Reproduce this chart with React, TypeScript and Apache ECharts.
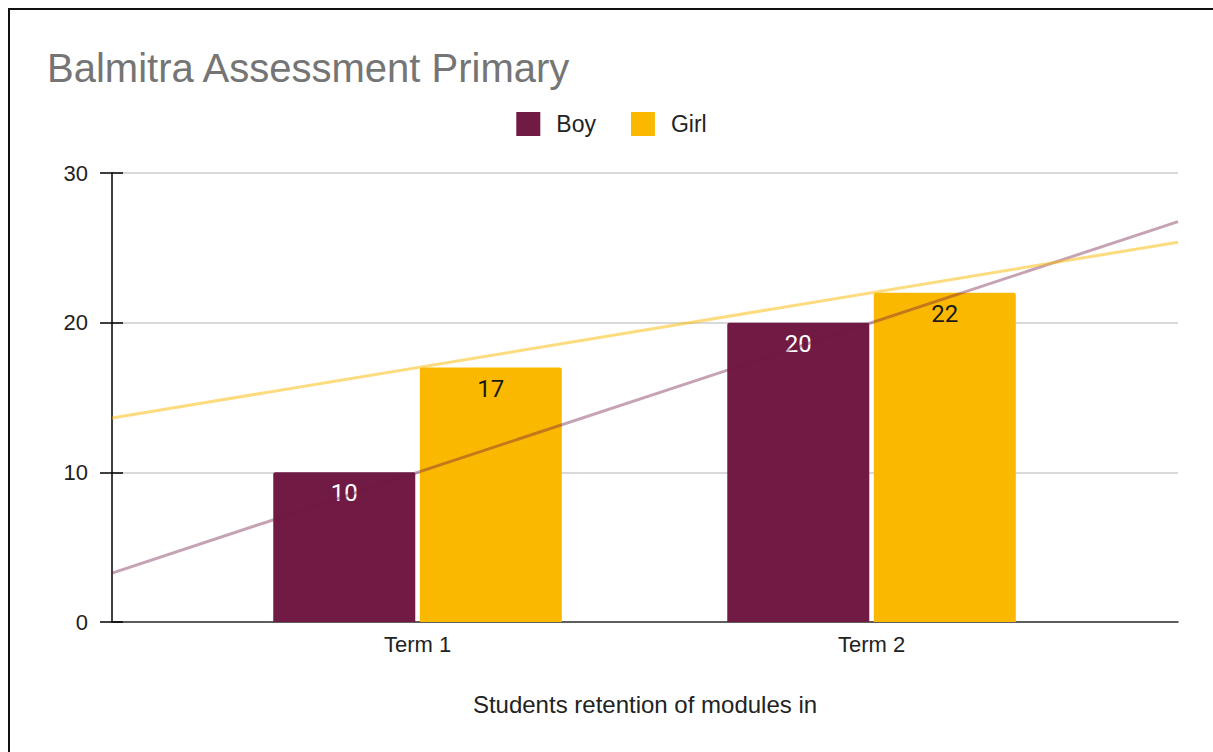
import React, { useEffect, useRef } from "react";
import * as echarts from "echarts";

const categories = ["Term 1", "Term 2"];
const categoryPositions = [1, 2];
const boyValues = [10, 20];
const girlValues = [17, 22];
const yTicks = [0, 10, 20, 30];
const xDomain = [0.327, 2.675];

function trend(xs: number[], ys: number[]) {
  const n = xs.length;
  const mx = xs.reduce((a, b) => a + b, 0) / n;
  const my = ys.reduce((a, b) => a + b, 0) / n;
  let num = 0;
  let den = 0;
  for (let i = 0; i < n; i++) {
    num += (xs[i] - mx) * (ys[i] - my);
    den += (xs[i] - mx) * (xs[i] - mx);
  }
  const slope = den ? num / den : 0;
  const icpt = my - slope * mx;
  return xDomain.map((x) => [x, icpt + slope * x]);
}

const BOY = "#701a44";
const GIRL = "#fab900";
const ARIAL = "'Liberation Sans', Arial, sans-serif";

export default function App() {
  const ref = useRef<HTMLDivElement>(null);
  useEffect(() => {
    document.documentElement.style.overflow = "hidden";
    document.body.style.overflow = "hidden";
    const chart = echarts.init(ref.current!, undefined, { renderer: "svg" });
    const yMin = yTicks[0];
    const yMax = yTicks[yTicks.length - 1];
    const yInt = yTicks[1] - yTicks[0];
    const gridBox = { left: 102, right: 35, top: 163, bottom: 130 };
    chart.setOption({
      animation: false,
      backgroundColor: "#fff",
      title: {
        text: "Balmitra Assessment Primary",
        left: 32,
        top: 33,
        textStyle: { fontFamily: ARIAL, fontSize: 40, fontWeight: "normal", color: "#757575" },
      },
      legend: {
        data: ["Boy", "Girl"],
        left: "center",
        top: 97,
        itemWidth: 24,
        itemHeight: 24,
        itemGap: 35,
        icon: "rect",
        textStyle: { fontFamily: ARIAL, fontSize: 23, color: "#222", padding: [0, 0, 0, 11] },
      },
      grid: [{ ...gridBox }, { ...gridBox }],
      xAxis: [
        {
          type: "value",
          min: xDomain[0],
          max: xDomain[1],
          splitLine: { show: false },
          axisTick: { show: false },
          axisLine: { show: true, lineStyle: { color: "#333", width: 1.5 } },
          axisLabel: {
            customValues: categoryPositions,
            formatter: (v: number) => categories[categoryPositions.indexOf(Math.round(v))] ?? "",
            fontFamily: ARIAL,
            fontSize: 22,
            color: "#222",
            margin: 11,
          },
          name: "Students retention of modules in",
          nameLocation: "middle",
          nameGap: 70,
          nameTextStyle: { fontFamily: ARIAL, fontSize: 24, color: "#222" },
        },
        { type: "value", gridIndex: 1, min: xDomain[0], max: xDomain[1], show: false },
      ],
      yAxis: [
        {
          type: "value",
          min: yMin,
          max: yMax,
          interval: yInt,
          axisLine: { show: true, lineStyle: { color: "#000", width: 1.5 } },
          axisTick: { show: true, inside: false, length: 12, lineStyle: { color: "#000", width: 1.5 } },
          axisLabel: { fontFamily: ARIAL, fontSize: 22, color: "#222", margin: 24 },
          splitLine: { show: true, lineStyle: { color: "#cccccc", width: 1.5 } },
        },
        {
          type: "value",
          gridIndex: 1,
          min: yMin,
          max: yMax,
          interval: yInt,
          axisLine: { show: false },
          axisTick: { show: true, inside: true, length: 11, lineStyle: { color: "#000", width: 1.5 } },
          axisLabel: { show: false },
          splitLine: { show: false },
        },
      ],
      series: [
        {
          name: "Boy",
          type: "bar",
          data: categoryPositions.map((x, i) => [x, boyValues[i]]),
          barWidth: 142,
          barGap: "3.2%",
          itemStyle: { color: BOY, borderRadius: [2, 2, 0, 0] },
          label: {
            show: true,
            position: "insideTop",
            distance: 9,
            fontFamily: "Roboto",
            fontSize: 24,
            color: "#fff",
          },
          z: 2,
        },
        {
          name: "Girl",
          type: "bar",
          data: categoryPositions.map((x, i) => [x, girlValues[i]]),
          barWidth: 142,
          barGap: "3.2%",
          itemStyle: { color: GIRL, borderRadius: [2, 2, 0, 0] },
          label: {
            show: true,
            position: "insideTop",
            distance: 9,
            fontFamily: "Roboto",
            fontSize: 24,
            color: "#1a1a1a",
          },
          z: 2,
        },
        {
          name: "Boy trend",
          type: "line",
          data: trend(categoryPositions, boyValues),
          symbol: "none",
          lineStyle: { color: BOY, width: 3, opacity: 0.4 },
          z: 3,
          silent: true,
        },
        {
          name: "Girl trend",
          type: "line",
          data: trend(categoryPositions, girlValues),
          symbol: "none",
          lineStyle: { color: GIRL, width: 3, opacity: 0.5 },
          z: 3,
          silent: true,
        },
      ],
    });
    return () => chart.dispose();
  }, []);
  return (
    <div
      style={{
        position: "fixed",
        left: 8,
        top: 8,
        width: 1400,
        height: 900,
        borderLeft: "2px solid #111",
        borderTop: "2px solid #111",
        background: "#fff",
      }}
    >
      <div ref={ref} style={{ width: 1203, height: 742 }} />
    </div>
  );
}
